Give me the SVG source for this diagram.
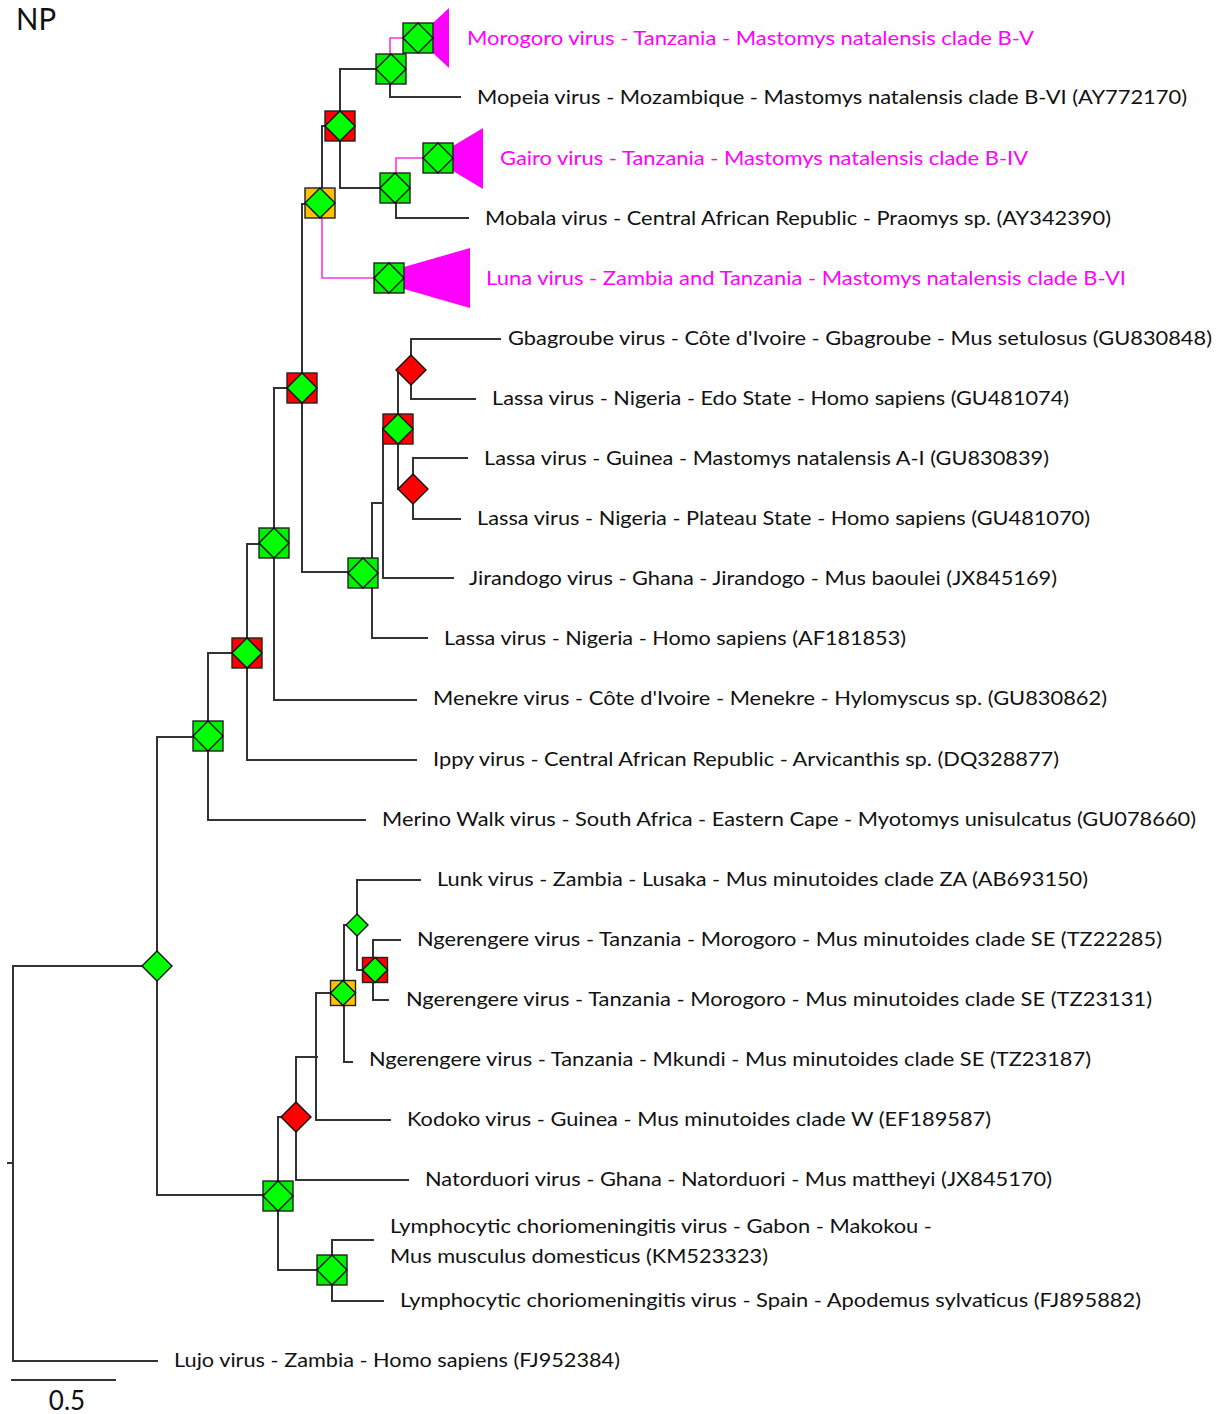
<svg xmlns="http://www.w3.org/2000/svg" xmlns:xlink="http://www.w3.org/1999/xlink" width="1223" height="1414" viewBox="0 0 1223 1414">
  <style>
    .br { fill: none; stroke: #333; stroke-width: 2; stroke-linecap: square; }
    .pk { fill: none; stroke: #ff33dd; stroke-width: 1.6; }
    .lbl { font-family: Lato, "Open Sans", "Liberation Sans", sans-serif; font-size: 20px; fill: #111; }
    .mag { fill: #ff00ff; }
    .ttl { font-family: Lato, "Open Sans", "Liberation Sans", sans-serif; font-size: 30px; fill: #111; }
    .scl { font-family: Lato, "Open Sans", "Liberation Sans", sans-serif; font-size: 26px; fill: #111; }
    .sq { stroke: #222; stroke-width: 1.4; }
    .dm { fill: #00ff00; stroke: #111; stroke-width: 1.4; }
    .g { fill: #00ee00; }
    .r { fill: #ff0000; }
    .o { fill: #ffc000; }
    .tri { fill: #ff00ff; }
  </style>
  <defs>
    <!-- boxed node: outer square coloured by support, inner green diamond -->
    <g id="boxG"><rect class="sq g" x="-15" y="-15" width="30" height="30"/><polygon class="dm" points="0,-15 15,0 0,15 -15,0"/></g>
    <g id="boxR"><rect class="sq r" x="-15" y="-15" width="30" height="30"/><polygon class="dm" points="0,-15 15,0 0,15 -15,0"/></g>
    <g id="boxO"><rect class="sq o" x="-15" y="-15" width="30" height="30"/><polygon class="dm" points="0,-15 15,0 0,15 -15,0"/></g>
    <g id="boxRs"><rect class="sq r" x="-12.5" y="-12.5" width="25" height="25"/><polygon class="dm" points="0,-12.5 12.5,0 0,12.5 -12.5,0"/></g>
    <g id="boxOs"><rect class="sq o" x="-12.5" y="-12.5" width="25" height="25"/><polygon class="dm" points="0,-12.5 12.5,0 0,12.5 -12.5,0"/></g>
    <!-- bare diamonds -->
    <polygon id="dG" class="dm" points="0,-15 15,0 0,15 -15,0"/>
    <polygon id="dR" points="0,-15 15,0 0,15 -15,0" fill="#ff0000" stroke="#111" stroke-width="1.4"/>
    <polygon id="dGs" class="dm" points="0,-11 11,0 0,11 -11,0"/>
  </defs>

  <rect width="1223" height="1414" fill="#ffffff"/>

  <text class="ttl" x="16" y="30" textLength="40" lengthAdjust="spacingAndGlyphs">NP</text>

  <!-- branches -->
  <g id="connectors">
    <path class="br" d="M157,966 H13 V1361 H157"/>
    <path class="br" d="M8,1163 H13"/>
    <path class="br" d="M208,737 H157 V1195 H278"/>
    <path class="br" d="M247,653 H208 V820 H365"/>
    <path class="br" d="M274,544 H247 V760 H416"/>
    <path class="br" d="M302,388 H274 V700 H416"/>
    <path class="br" d="M319,204 H302 V572 H363"/>
    <path class="br" d="M340,126 H322 V204"/>
    <path class="pk" d="M322,204 V278 H389"/>
    <path class="br" d="M390,69 H340 V188 H395"/>
    <path class="pk" d="M418,38 H390 V69"/>
    <path class="br" d="M390,69 V97 H460"/>
    <path class="pk" d="M438,158 H396 V188"/>
    <path class="br" d="M396,188 V218 H468"/>
    <path class="br" d="M372,503 V638 H427"/>
    <path class="br" d="M372,503 H383 V578 H453"/>
    <path class="br" d="M383,428 V503"/>
    <path class="br" d="M383,428 H398"/>
    <path class="br" d="M411,370 H398 V489 H413"/>
    <path class="br" d="M500,339 H411 V399 H475"/>
    <path class="br" d="M467,458 H413 V519 H460"/>
    <path class="br" d="M296,1117 H278 V1270 H332"/>
    <path class="br" d="M317,1057 H296 V1180 H408"/>
    <path class="br" d="M343,993 H316 V1120 H390"/>
    <path class="br" d="M357,925 H344 V1062 H352"/>
    <path class="br" d="M420,880 H357 V970 H375"/>
    <path class="br" d="M400,940 H373 V1000 H388"/>
    <path class="br" d="M373,1240 H332 V1301 H383"/>
  </g>

  <!-- internal nodes -->
  <g id="n-root"><use xlink:href="#dG" x="157" y="966"/></g>
  <g id="n-b"><use xlink:href="#boxG" x="208" y="736"/></g>
  <g id="n-c"><use xlink:href="#boxR" x="247" y="653"/></g>
  <g id="n-d"><use xlink:href="#boxG" x="274" y="543"/></g>
  <g id="n-e"><use xlink:href="#boxR" x="302" y="388"/></g>
  <g id="n-f"><use xlink:href="#boxO" x="320" y="203"/></g>
  <g id="n-g"><use xlink:href="#boxR" x="340" y="126"/></g>
  <g id="n-h"><use xlink:href="#boxG" x="391" y="69"/></g>
  <g id="n-morogoro"><polygon class="tri" points="418,38 433,23 449,8 449,68 433,53"/><use xlink:href="#boxG" x="418" y="38"/></g>
  <g id="n-i"><use xlink:href="#boxG" x="395" y="188"/></g>
  <g id="n-gairo"><polygon class="tri" points="438,150 453,146 483,128 483,189 453,171 438,166"/><use xlink:href="#boxG" x="438" y="158"/></g>
  <g id="n-luna"><polygon class="tri" points="389,270 404,267 470,248 470,308 404,289 389,286"/><use xlink:href="#boxG" x="389" y="278"/></g>
  <g id="n-k"><use xlink:href="#boxG" x="363" y="573"/></g>
  <g id="n-l"><use xlink:href="#boxR" x="398" y="429"/></g>
  <g id="n-m"><use xlink:href="#dR" x="411" y="370"/></g>
  <g id="n-n"><use xlink:href="#dR" x="413" y="489"/></g>
  <g id="n-o"><use xlink:href="#boxG" x="278" y="1196"/></g>
  <g id="n-p"><use xlink:href="#dR" x="296" y="1117"/></g>
  <g id="n-r"><use xlink:href="#boxOs" x="343" y="993"/></g>
  <g id="n-s"><use xlink:href="#dGs" x="357" y="925"/></g>
  <g id="n-t"><use xlink:href="#boxRs" x="375" y="970"/></g>
  <g id="n-q"><use xlink:href="#boxG" x="332" y="1270"/></g>

  <!-- tip labels -->
  <g id="labels" class="lbl">
    <text class="mag" x="467" y="45" textLength="567" lengthAdjust="spacingAndGlyphs">Morogoro virus - Tanzania - Mastomys natalensis clade B-V</text>
    <text x="477" y="104" textLength="710" lengthAdjust="spacingAndGlyphs">Mopeia virus - Mozambique - Mastomys natalensis clade B-VI (AY772170)</text>
    <text class="mag" x="500" y="165" textLength="528" lengthAdjust="spacingAndGlyphs">Gairo virus - Tanzania - Mastomys natalensis clade B-IV</text>
    <text x="485" y="225" textLength="626" lengthAdjust="spacingAndGlyphs">Mobala virus - Central African Republic - Praomys sp. (AY342390)</text>
    <text class="mag" x="486" y="285" textLength="640" lengthAdjust="spacingAndGlyphs">Luna virus - Zambia and Tanzania - Mastomys natalensis clade B-VI</text>
    <text x="508" y="345" textLength="704" lengthAdjust="spacingAndGlyphs">Gbagroube virus - Côte d'Ivoire - Gbagroube - Mus setulosus (GU830848)</text>
    <text x="492" y="405" textLength="577" lengthAdjust="spacingAndGlyphs">Lassa virus - Nigeria - Edo State - Homo sapiens (GU481074)</text>
    <text x="484" y="465" textLength="565" lengthAdjust="spacingAndGlyphs">Lassa virus - Guinea - Mastomys natalensis A-I (GU830839)</text>
    <text x="477" y="525" textLength="613" lengthAdjust="spacingAndGlyphs">Lassa virus - Nigeria - Plateau State - Homo sapiens (GU481070)</text>
    <text x="469" y="585" textLength="588" lengthAdjust="spacingAndGlyphs">Jirandogo virus - Ghana - Jirandogo - Mus baoulei (JX845169)</text>
    <text x="444" y="645" textLength="462" lengthAdjust="spacingAndGlyphs">Lassa virus - Nigeria - Homo sapiens (AF181853)</text>
    <text x="433" y="705" textLength="674" lengthAdjust="spacingAndGlyphs">Menekre virus - Côte d'Ivoire - Menekre - Hylomyscus sp. (GU830862)</text>
    <text x="433" y="766" textLength="626" lengthAdjust="spacingAndGlyphs">Ippy virus - Central African Republic - Arvicanthis sp. (DQ328877)</text>
    <text x="382" y="826" textLength="814" lengthAdjust="spacingAndGlyphs">Merino Walk virus - South Africa - Eastern Cape - Myotomys unisulcatus (GU078660)</text>
    <text x="437" y="886" textLength="651" lengthAdjust="spacingAndGlyphs">Lunk virus - Zambia - Lusaka - Mus minutoides clade ZA (AB693150)</text>
    <text x="417" y="946" textLength="745" lengthAdjust="spacingAndGlyphs">Ngerengere virus - Tanzania - Morogoro - Mus minutoides clade SE (TZ22285)</text>
    <text x="406" y="1006" textLength="746" lengthAdjust="spacingAndGlyphs">Ngerengere virus - Tanzania - Morogoro - Mus minutoides clade SE (TZ23131)</text>
    <text x="369" y="1066" textLength="722" lengthAdjust="spacingAndGlyphs">Ngerengere virus - Tanzania - Mkundi - Mus minutoides clade SE (TZ23187)</text>
    <text x="407" y="1126" textLength="584" lengthAdjust="spacingAndGlyphs">Kodoko virus - Guinea - Mus minutoides clade W (EF189587)</text>
    <text x="425" y="1186" textLength="627" lengthAdjust="spacingAndGlyphs">Natorduori virus - Ghana - Natorduori - Mus mattheyi (JX845170)</text>
    <text x="390" y="1233" textLength="542" lengthAdjust="spacingAndGlyphs">Lymphocytic choriomeningitis virus - Gabon - Makokou -</text>
    <text x="390" y="1263" textLength="378" lengthAdjust="spacingAndGlyphs">Mus musculus domesticus (KM523323)</text>
    <text x="400" y="1307" textLength="741" lengthAdjust="spacingAndGlyphs">Lymphocytic choriomeningitis virus - Spain - Apodemus sylvaticus (FJ895882)</text>
    <text x="174" y="1367" textLength="446" lengthAdjust="spacingAndGlyphs">Lujo virus - Zambia - Homo sapiens (FJ952384)</text>
  </g>

  <!-- scale bar -->
  <g id="scale">
    <path class="br" d="M12,1380 H115"/>
    <text class="scl" x="67" y="1410" text-anchor="middle">0.5</text>
  </g>
</svg>
